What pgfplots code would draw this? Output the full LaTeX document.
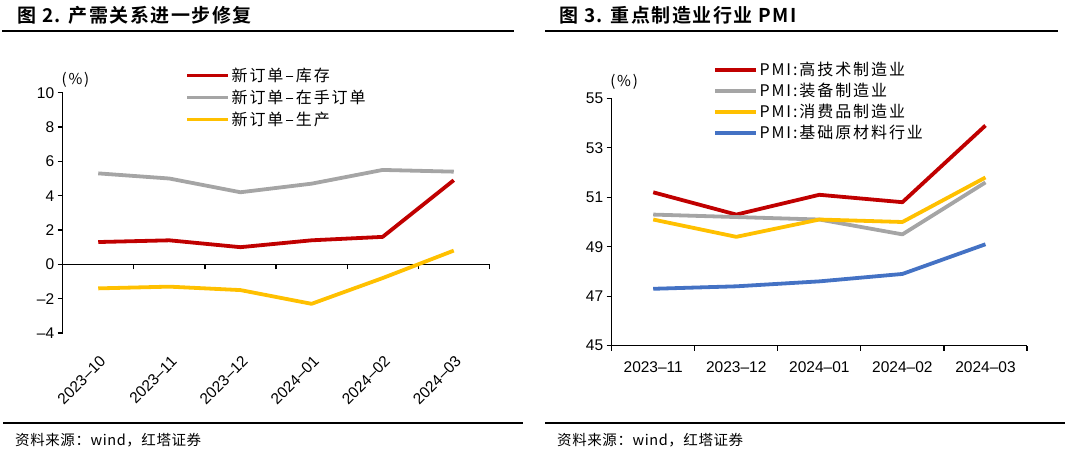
\documentclass[border=0pt]{standalone}
\usepackage{pgfplots}
\pgfplotsset{compat=1.18}
\usepackage{fontspec}
\setmainfont{Liberation Sans}
\newfontfamily\cjk[LetterSpace=12]{Noto Sans CJK SC}
\newfontfamily\cjksrc[LetterSpace=4]{Noto Sans CJK SC}
\newfontfamily\cjkb[LetterSpace=8]{Noto Sans CJK SC Bold}

\definecolor{cred}{HTML}{C00000}
\definecolor{cgray}{HTML}{A5A5A5}
\definecolor{cyel}{HTML}{FFC000}
\definecolor{cblue}{HTML}{4472C4}

% 新订单-库存 / 新订单-在手订单 / 新订单-生产
\pgfplotstableread{
x kc zs sc
0 1.3 5.3 -1.4
1 1.4 5.0 -1.3
2 1.0 4.2 -1.5
3 1.4 4.7 -2.3
4 1.6 5.5 -0.8
5 4.9 5.4 0.8
}\leftdata

% 高技术 / 装备 / 消费品 / 基础原材料
\pgfplotstableread{
x gjs zb xfp jc
0 51.2 50.3 50.1 47.3
1 50.3 50.2 49.4 47.4
2 51.1 50.1 50.1 47.6
3 50.8 49.5 50.0 47.9
4 53.9 51.6 51.8 49.1
}\rightdata

\pgfplotsset{
  base/.style={
    scale only axis, clip=false,
    axis line style={line width=1.2pt},
    major tick length=5pt,
    tick style={line width=1.2pt, black},
    tick align=outside,
    tick label style={font=\fontsize{15.5}{18}\selectfont},
    /pgf/number format/assume math mode=true,
    legend style={draw=none, fill=none, inner sep=0pt,
      font=\cjk\fontsize{16}{19}\selectfont,
      nodes={inner sep=1.5pt},
      cells={anchor=west}},
    legend image code/.code={\draw[##1, line width=3.8pt] (0pt,0pt) -- (41pt,0pt);},
    every axis plot/.append style={line width=3.8pt, no marks, line join=round},
  }
}

\begin{document}
\begin{tikzpicture}
\useasboundingbox (0,0) rectangle (1069pt,-462pt);

% titles and rules
\node[anchor=base west, inner sep=0pt] at (17pt,-23pt) {\cjkb\fontsize{19}{22}\selectfont 图 2. 产需关系进一步修复};
\node[anchor=base west, inner sep=0pt] at (559pt,-23pt) {\cjkb\fontsize{19}{22}\selectfont 图 3. 重点制造业行业 PMI};
\draw[line width=1.5pt] (2pt,-31pt) -- (514pt,-31pt);
\draw[line width=1.5pt] (545pt,-31pt) -- (1058pt,-31pt);
\draw[line width=1.5pt] (3pt,-423pt) -- (523pt,-423pt);
\draw[line width=1.5pt] (545pt,-423pt) -- (1065pt,-423pt);
\node[anchor=base west, inner sep=0pt] at (15pt,-446pt) {\cjksrc\fontsize{14.5}{17}\selectfont 资料来源：wind，红塔证券};
\node[anchor=base west, inner sep=0pt] at (557pt,-446pt) {\cjksrc\fontsize{14.5}{17}\selectfont 资料来源：wind，红塔证券};

% left: zero line with its ticks
\begin{axis}[base, at={(62.7pt,-333pt)}, anchor=south west,
  width=426.6pt, height=240.3pt,
  xmin=-0.5, xmax=5.5, ymin=-4, ymax=10,
  axis y line=none, axis x line*=middle,
  xtick={-0.5,0.5,...,5.5}, xticklabels={}, ytick=\empty]
\end{axis}

% left chart
\begin{axis}[base, at={(62.7pt,-333pt)}, anchor=south west,
  width=426.6pt, height=240.3pt,
  xmin=-0.5, xmax=5.5, ymin=-4, ymax=10,
  axis y line*=left, axis x line*=bottom,
  x axis line style={draw=none},
  ytick={-4,-2,...,10}, yticklabels={–4,–2,0,2,4,6,8,10},
  xtick={0,...,5},
  xticklabels={2023–10,2023–11,2023–12,2024–01,2024–02,2024–03},
  x tick style={draw=none},
  xticklabel style={rotate=45, anchor=east, yshift=-18pt, xshift=-8pt},
  legend style={at={(0.287,1.11)}, anchor=north west, row sep=4pt}]
\addplot[cred] table[x=x, y=kc] {\leftdata};
\addplot[cgray] table[x=x, y=zs] {\leftdata};
\addplot[cyel] table[x=x, y=sc] {\leftdata};
\legend{新订单–库存, 新订单–在手订单, 新订单–生产}
\node[anchor=center, font=\cjk\fontsize{15}{18}\selectfont] at (rel axis cs:0.03,1.055) {(\%)};
\end{axis}

% right chart
\begin{axis}[base, at={(611.7pt,-345.7pt)}, anchor=south west,
  width=415.3pt, height=247.4pt,
  xmin=-0.5, xmax=4.5, ymin=45, ymax=55,
  axis lines*=left,
  ytick={45,47,...,55},
  xtick={-0.5,0.5,...,4.5}, x tick label as interval,
  xticklabels={2023–11,2023–12,2024–01,2024–02,2024–03},
  xticklabel style={yshift=-7pt},
  legend style={at={(0.244,1.152)}, anchor=north west, row sep=3pt}]
\addplot[cred] table[x=x, y=gjs] {\rightdata};
\addplot[cgray] table[x=x, y=zb] {\rightdata};
\addplot[cyel] table[x=x, y=xfp] {\rightdata};
\addplot[cblue] table[x=x, y=jc] {\rightdata};
\legend{PMI:高技术制造业, PMI:装备制造业, PMI:消费品制造业, PMI:基础原材料行业}
\node[anchor=center, font=\cjk\fontsize{15}{18}\selectfont] at (rel axis cs:0.03,1.065) {(\%)};
\end{axis}
\end{tikzpicture}
\end{document}
